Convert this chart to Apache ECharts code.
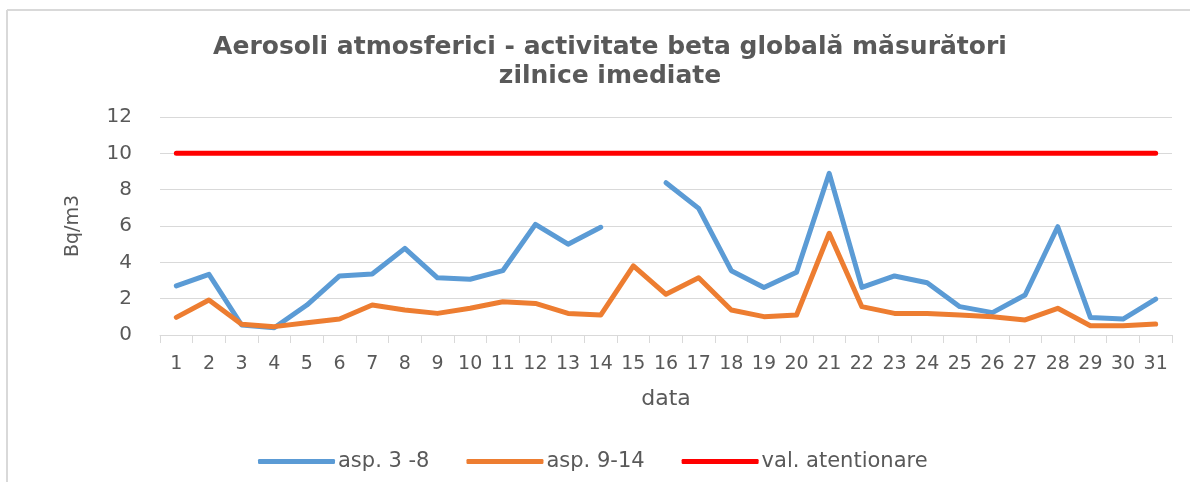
<!DOCTYPE html>
<html>
<head>
<meta charset="utf-8">
<script src="https://cdn.jsdelivr.net/npm/echarts@6/dist/echarts.min.js"></script>
<style>
  html, body { margin: 0; padding: 0; background: #fff; }
  #container { width: 1195px; height: 482px; }
</style>
</head>
<body>
<div id="container"></div>
<script>
// days of the month
var days = [];
for (var d = 1; d <= 31; d++) days.push(String(d));

// asp. 3 -8 (day 15 missing)
var asp38 = [2.7, 3.34, 0.55, 0.4, 1.65, 3.25, 3.36, 4.77, 3.15, 3.07, 3.54,
    6.09, 5.0, 5.93, null, 8.38, 6.97, 3.54, 2.62, 3.45,
    8.9, 2.62, 3.25, 2.88, 1.56, 1.23, 2.2, 5.96, 0.97, 0.88, 1.98];

// asp. 9-14
var asp914 = [0.97, 1.93, 0.59, 0.46, 0.68, 0.88, 1.65, 1.38, 1.19, 1.47, 1.83,
    1.74, 1.19, 1.1, 3.81, 2.24, 3.15, 1.38, 1.01, 1.1,
    5.6, 1.56, 1.19, 1.19, 1.1, 1.01, 0.83, 1.47, 0.51, 0.51, 0.6];

// val. atentionare
var alertLevel = [10, 10, 10, 10, 10, 10, 10, 10, 10, 10, 10, 10, 10, 10, 10, 10,
    10, 10, 10, 10, 10, 10, 10, 10, 10, 10, 10, 10, 10, 10, 10];

var yTicks = [0, 2, 4, 6, 8, 10, 12];

var dom = document.getElementById('container');
var myChart = echarts.init(dom, null, { renderer: 'canvas' });

var font = 'DejaVu Sans';
var textColor = '#595959';

var option = {
    animation: false,
    title: {
        text: 'Aerosoli atmosferici - activitate beta globală măsurători\nzilnice imediate',
        left: 605,
        top: 28,
        textAlign: 'center',
        textStyle: {
            fontFamily: font,
            fontSize: 25,
            fontWeight: 'bold',
            color: textColor,
            lineHeight: 29
        }
    },
    graphic: [
        { type: 'line', shape: { x1: 7, y1: 10, x2: 7, y2: 482 }, style: { stroke: '#d9d9d9', lineWidth: 2 } },
        { type: 'line', shape: { x1: 7, y1: 10, x2: 1190, y2: 10 }, style: { stroke: '#d9d9d9', lineWidth: 2 } }
    ],
    legend: {
        top: 446,
        left: 253,
        itemWidth: 77,
        itemHeight: 5,
        itemGap: 37,
        icon: 'roundRect',
        textStyle: { fontFamily: font, fontSize: 21, color: textColor, padding: [0, 0, 0, -2] },
        data: ['asp. 3 -8', 'asp. 9-14', 'val. atentionare']
    },
    grid: {
        left: 160,
        right: 23,
        top: 117,
        bottom: 147
    },
    xAxis: {
        type: 'category',
        data: days,
        boundaryGap: true,
        name: 'data',
        nameLocation: 'middle',
        nameGap: 53,
        nameTextStyle: { fontFamily: font, fontSize: 22, color: textColor },
        axisLine: { lineStyle: { color: '#d9d9d9', width: 1 } },
        axisTick: { show: true, length: 8, lineStyle: { color: '#d9d9d9' } },
        axisLabel: {
            interval: 0,
            margin: 20,
            fontFamily: font,
            fontSize: 19,
            color: textColor
        }
    },
    yAxis: {
        type: 'value',
        min: yTicks[0],
        max: yTicks[yTicks.length - 1],
        interval: 2,
        name: 'Bq/m3',
        nameLocation: 'middle',
        nameGap: 77,
        nameRotate: 90,
        nameTextStyle: { fontFamily: font, fontSize: 19, color: textColor },
        axisLine: { show: false },
        axisTick: { show: false },
        axisLabel: { margin: 28, fontFamily: font, fontSize: 20, color: textColor },
        splitLine: { lineStyle: { color: '#d9d9d9', width: 1 } }
    },
    series: [
        {
            name: 'asp. 3 -8',
            type: 'line',
            data: asp38,
            symbol: 'none',
            connectNulls: false,
            lineStyle: { color: '#5b9bd5', width: 5, cap: 'round', join: 'round' },
            itemStyle: { color: '#5b9bd5' }
        },
        {
            name: 'asp. 9-14',
            type: 'line',
            data: asp914,
            symbol: 'none',
            lineStyle: { color: '#ed7d31', width: 5, cap: 'round', join: 'round' },
            itemStyle: { color: '#ed7d31' }
        },
        {
            name: 'val. atentionare',
            type: 'line',
            data: alertLevel,
            symbol: 'none',
            lineStyle: { color: '#ff0000', width: 5, cap: 'round' },
            itemStyle: { color: '#ff0000' }
        }
    ]
};

if (option && typeof option === 'object') {
    myChart.setOption(option);
}

window.addEventListener('resize', myChart.resize);
</script>
</body>
</html>
